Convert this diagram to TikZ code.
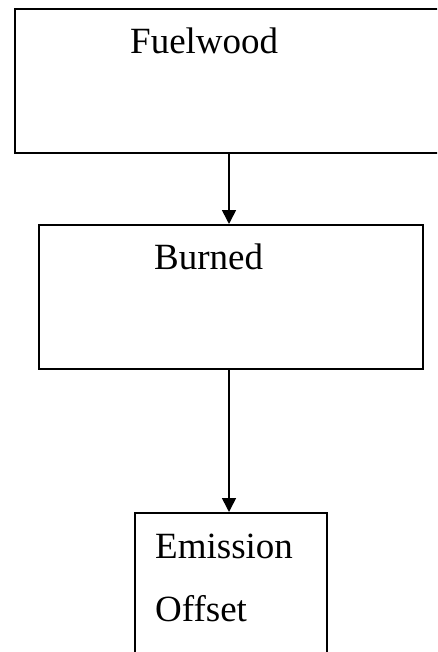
\documentclass[tikz,border=0pt]{standalone}
\usepackage{fontspec}
\setmainfont{Liberation Serif}
\usetikzlibrary{arrows.meta,positioning}
\tikzset{
  flowbox/.style={
    rectangle, draw=black, line width=1.8pt, fill=white,
    inner sep=0pt, anchor=north west
  },
  flowarrow/.style={
    -{Triangle[length=14pt,width=14pt]}, line width=1.6pt
  },
  boxtext/.style={
    font=\fontsize{37}{44}\selectfont, anchor=base west, inner sep=0pt
  },
}
\begin{document}
\begin{tikzpicture}[x=1pt,y=1pt]
  \useasboundingbox (0,0) rectangle (437,-652);
  \clip (0,0) rectangle (437,-652);

  % Boxes
  \node[flowbox, minimum width=450pt, minimum height=144pt] (fuel) at (14,-8) {};
  \node[flowbox, minimum width=384pt, minimum height=144pt] (burn) at (38,-224) {};
  \node[flowbox, minimum width=192pt, minimum height=160pt] (emis) at (134,-512) {};

  % Texts
  \node[boxtext] (fueltxt) at (130,-54) {Fuelwood};
  \node[boxtext] (burntxt) at (154,-269) {Burned};
  \node[boxtext] (emistxt) at (155,-558) {Emission};
  \node[boxtext] (offtxt) at (155,-621) {Offset};

  % Arrows
  \draw[flowarrow] (fuel.south west -| 229,0) -- (burn.north west -| 229,0);
  \draw[flowarrow] (burn.south west -| 229,0) -- (emis.north west -| 229,0);
\end{tikzpicture}
\end{document}
